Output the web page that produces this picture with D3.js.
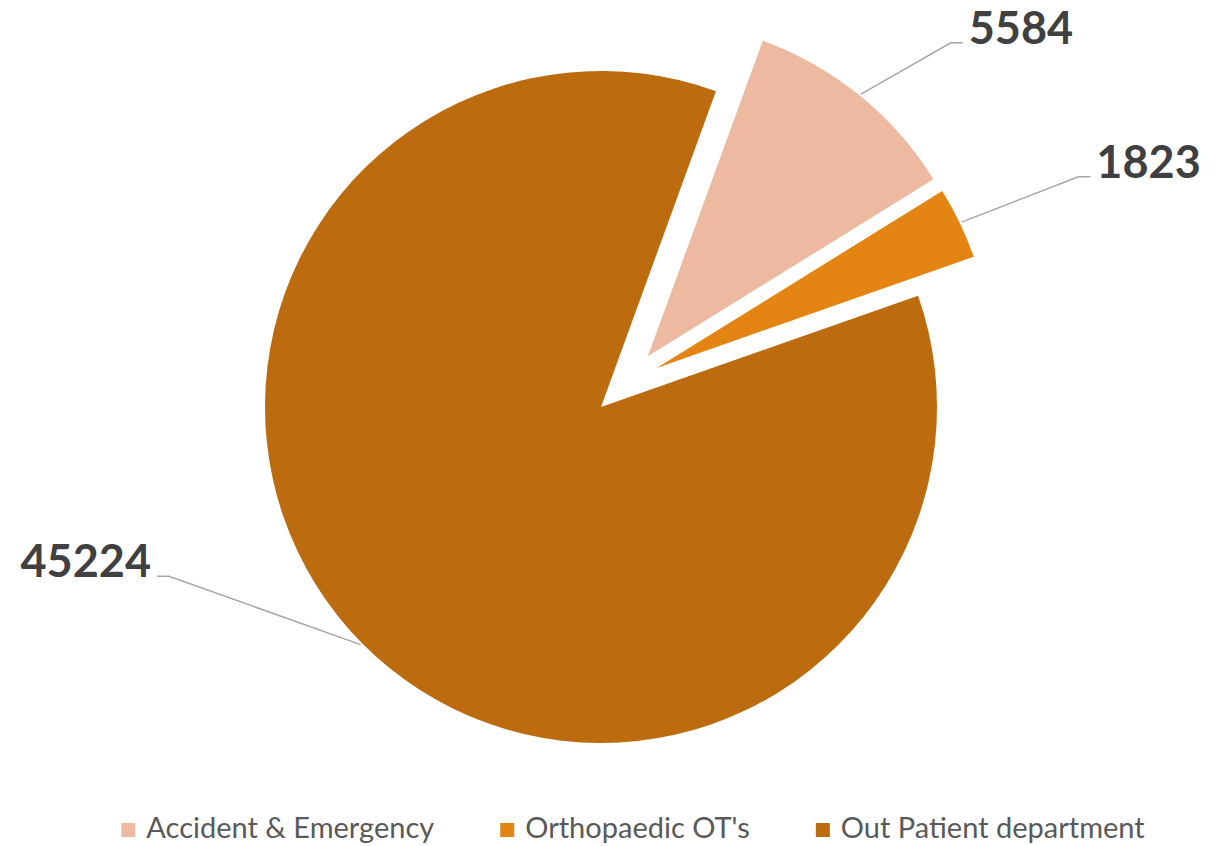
<!DOCTYPE html>
<html>
<head>
<meta charset="utf-8">
<script src="https://cdn.jsdelivr.net/npm/d3@7/dist/d3.min.js"></script>
<style>
html,body{margin:0;padding:0;background:#fff;}
svg{display:block;}
</style>
</head>
<body>
<svg id="chart" width="1216" height="846"></svg>
<script>
const categories = ["Accident & Emergency", "Orthopaedic OT's", "Out Patient department"];
const values = [5584, 1823, 45224];
const colors = ["#EDB9A0", "#E48413", "#BC6C0E"];

const W = 1216, H = 846;
const cx = 601, cy = 407, R = 336;
const startAngle = 20 * Math.PI / 180;
// explosion: distance and direction (deg, clockwise from 12 o'clock)
const explode = [{d: 69, dir: 42.8}, {d: 68, dir: 55}, {d: 0, dir: 0}];
// label placement: distance from slice center, angle (deg) of elbow, side
const labelPos = [
  {dist: 436, ang: 44.0, side: "right"},
  {dist: 463, ang: 65.6, side: "right"},
  {dist: 464, ang: 248.6, side: "left"}
];

const svg = d3.select("#chart");
const g = svg.append("g").attr("transform", `translate(${cx},${cy})`);

const pie = d3.pie().sort(null).value(d => d).startAngle(startAngle).endAngle(startAngle + 2 * Math.PI);
const arcs = pie(values);
const arc = d3.arc().innerRadius(0).outerRadius(R);

function polar(r, a) { return [r * Math.sin(a), -r * Math.cos(a)]; }

arcs.forEach((d, i) => {
  const mid = (d.startAngle + d.endAngle) / 2;
  const off = polar(explode[i].d, explode[i].dir * Math.PI / 180);
  const sg = g.append("g").attr("transform", `translate(${off[0]},${off[1]})`);
  sg.append("path").attr("d", arc(d)).attr("fill", colors[i]);

  // leader line
  const p0 = polar(R + 2, mid);
  const lp = labelPos[i];
  const elb = polar(lp.dist, lp.ang * Math.PI / 180);
  const hx = lp.side === "right" ? elb[0] + 12 : elb[0] - 12;
  sg.append("polyline")
    .attr("points", [p0, elb, [hx, elb[1]]].map(p => p.join(",")).join(" "))
    .attr("fill", "none").attr("stroke", "#A6A6A6").attr("stroke-width", 1.5);
  sg.append("text")
    .attr("x", lp.side === "right" ? hx + 6 : hx - 6)
    .attr("y", elb[1] + 1)
    .attr("text-anchor", lp.side === "right" ? "start" : "end")
    .attr("font-family", "Lato, 'Open Sans', sans-serif")
    .attr("font-weight", "bold")
    .attr("font-size", 45)
    .attr("fill", "#404040")
    .text(values[i]);
});

// legend
const lg = svg.append("g");
const items = lg.selectAll("g").data(categories).enter().append("g");
items.append("rect").attr("width", 14).attr("height", 14).attr("y", -15).attr("fill", (d, i) => colors[i]);
items.append("text").attr("x", 25).attr("y", 0)
  .attr("font-family", "Lato, 'Open Sans', sans-serif")
  .attr("font-size", 29).attr("fill", "#595959").text(d => d);
let x = 0;
const gap = 66;
items.each(function () {
  const w = d3.select(this).select("text").node().getComputedTextLength();
  d3.select(this).attr("transform", `translate(${x},0)`);
  x += 25 + w + gap;
});
const total = x - gap;
lg.attr("transform", `translate(${633 - total / 2},838)`);
</script>
</body>
</html>
